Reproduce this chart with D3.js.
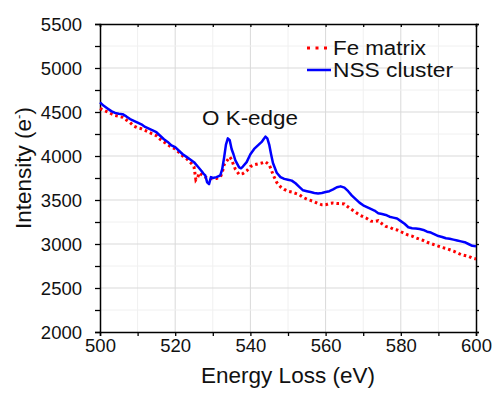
<!DOCTYPE html>
<html><head><meta charset="utf-8">
<script src="https://cdn.jsdelivr.net/npm/d3@7"></script>
<style>body{margin:0;background:#fff;} text{font-family:"Liberation Sans",Arial,sans-serif;fill:#111;}</style>
</head><body><svg id="c" width="493" height="395"></svg>
<script>
const nssEnergy = [500,501,502,503,504,505,506,507,508,509,510,511,512,513,514,515,516,517,518,519,520,521,522,523,524,525,526,527,527.5,528,528.5,529,529.5,530,531,532,532.5,533,533.5,534,534.5,535,535.5,536,537,537.5,538,539,540,541,542,543,543.5,544,544.5,545,545.5,546,547,548,549,550,551,552,553,554,555,556,557,558,559,560,561,562,563,564,565,566,567,568,569,570,571,572,573,574,575,576,577,578,579,580,581,582,583,584,585,586,587,588,589,590,591,592,593,594,595,596,597,598,599,600];
const nssIntensity = [4610,4570,4540,4510,4490,4480,4475,4450,4420,4400,4380,4360,4330,4310,4290,4270,4230,4190,4160,4120,4100,4060,4020,3990,3960,3930,3880,3830,3800,3780,3700,3680,3760,3750,3760,3780,3850,3980,4130,4200,4180,4080,4020,3950,3870,3860,3880,3930,4020,4080,4120,4160,4190,4220,4200,4130,4020,3920,3810,3760,3740,3730,3720,3690,3650,3610,3600,3590,3580,3575,3580,3590,3600,3620,3645,3655,3640,3600,3550,3510,3470,3440,3420,3400,3380,3350,3340,3330,3310,3300,3290,3260,3230,3190,3180,3175,3170,3160,3140,3130,3110,3090,3080,3065,3060,3050,3040,3030,3020,3000,2980,2975];
const feEnergy = [500,501,502,503,504,505,506,507,508,509,510,511,512,513,514,515,516,517,518,519,520,521,522,523,524,525,525.5,526,526.5,527,528,529,530,531,532,532.5,533,534,534.5,535,535.5,536,537,538,539,540,541,542,543,544,545,545.5,546,547,548,549,550,551,552,553,554,555,556,557,558,559,560,561,562,563,564,565,566,567,568,569,570,571,572,573,574,575,576,577,578,579,580,581,582,583,584,585,586,587,588,589,590,591,592,593,594,595,596,597,598,599,600];
const feIntensity = [4540,4520,4500,4480,4460,4450,4440,4410,4380,4340,4320,4310,4290,4270,4250,4230,4190,4160,4130,4100,4080,4040,4000,3970,3930,3880,3730,3760,3810,3790,3760,3750,3740,3745,3760,3810,3900,3960,3990,3960,3900,3850,3790,3800,3830,3880,3900,3910,3920,3935,3900,3850,3790,3700,3650,3620,3600,3590,3575,3560,3530,3510,3495,3480,3460,3445,3445,3460,3465,3460,3460,3455,3420,3390,3360,3330,3310,3290,3260,3255,3265,3230,3200,3190,3170,3160,3140,3120,3100,3090,3070,3055,3040,3020,3005,2990,2975,2960,2950,2935,2920,2900,2880,2870,2860,2840,2830];
const xTicks = [500,520,540,560,580,600];
const yTicks = [2000,2500,3000,3500,4000,4500,5000,5500];
const seriesNames = ["Fe matrix","NSS cluster"];

const svg = d3.select("#c");
const L=100,R=476,T=24,B=332;
const x = d3.scaleLinear().domain([500,600]).range([L,R]);
const y = d3.scaleLinear().domain([2000,5500]).range([B,T]);

// gridlines
const g = svg.append("g");
d3.range(510,600,10).forEach(v=>{
  g.append("line").attr("x1",x(v)).attr("x2",x(v)).attr("y1",T).attr("y2",B)
   .attr("stroke", v%20===0?"#d9d9d9":"#f0f0f0").attr("stroke-width",1);
});
d3.range(2250,5500,250).forEach(v=>{
  g.append("line").attr("x1",L).attr("x2",R).attr("y1",y(v)).attr("y2",y(v))
   .attr("stroke", v%500===0?"#d9d9d9":"#f0f0f0").attr("stroke-width",1);
});

// axes
const ax = d3.axisBottom(x).tickValues(d3.range(500,601,10)).tickSize(4).tickFormat(d=>xTicks.includes(d)?d:"");
const xa = svg.append("g").attr("transform",`translate(0,${B})`).call(ax);
const ay = d3.axisLeft(y).tickValues(d3.range(2000,5501,250)).tickSize(5).tickFormat(d=>yTicks.includes(d)?d:"");
const ya = svg.append("g").attr("transform",`translate(${L},0)`).call(ay);
const at = svg.append("g").attr("transform",`translate(0,${T})`).call(d3.axisTop(x).tickValues(d3.range(500,601,10)).tickSize(-3).tickFormat(""));
const ar = svg.append("g").attr("transform",`translate(${R},0)`).call(d3.axisRight(y).tickValues(d3.range(2000,5501,250)).tickSize(3).tickFormat(""));
[xa,ya,at,ar].forEach(a=>{
  a.select(".domain").attr("stroke","#000").attr("stroke-width",1.5);
  a.selectAll(".tick line").attr("stroke","#000").attr("stroke-width",1.3);
  a.selectAll("text").style("font-family","Liberation Sans, Arial, sans-serif").style("font-size","18.5px").attr("fill","#111");
});
xa.selectAll("text").attr("y",7).attr("dy","0.71em");
ya.selectAll("text").attr("x",-18).attr("dy","0.35em");

// series
const line = d3.line().x(d=>x(d[0])).y(d=>y(d[1]));
const fe = feEnergy.map((e,i)=>[e,feIntensity[i]]);
const nss = nssEnergy.map((e,i)=>[e,nssIntensity[i]]);
svg.append("path").datum(fe).attr("d",line).attr("fill","none").attr("stroke","#ff0000")
  .attr("stroke-width",3).attr("stroke-dasharray","2.6,3");
svg.append("path").datum(nss).attr("d",line).attr("fill","none").attr("stroke","#0000ff")
  .attr("stroke-width",2.5).attr("stroke-linejoin","round");

// legend
const lg = svg.append("g");
lg.selectAll("rect.d").data([0,1,2]).enter().append("rect")
  .attr("x",d=>307+d*8.5).attr("y",46.5).attr("width",3).attr("height",3).attr("fill","#ff0000");
lg.append("line").attr("x1",307).attr("x2",331).attr("y1",70).attr("y2",70).attr("stroke","#0000ff").attr("stroke-width",2.5);
lg.append("text").attr("x",333).attr("y",55).style("font-size","20px").attr("textLength",93).attr("lengthAdjust","spacingAndGlyphs").text(seriesNames[0]);
lg.append("text").attr("x",333).attr("y",77).style("font-size","20px").attr("textLength",120).attr("lengthAdjust","spacingAndGlyphs").text(seriesNames[1]);

// annotation
svg.append("text").attr("x",202).attr("y",125).style("font-size","20px").attr("textLength",96).attr("lengthAdjust","spacingAndGlyphs").text("O K-edge");

// axis titles
svg.append("text").attr("x",(L+R)/2).attr("y",383).attr("text-anchor","middle").style("font-size","22.5px").text("Energy Loss (eV)");
const yt = svg.append("text").attr("transform","translate(31,168) rotate(-90)").attr("text-anchor","middle").style("font-size","22.5px");
yt.append("tspan").text("Intensity (e");
yt.append("tspan").attr("dy","-8").style("font-size","13px").text("-");
yt.append("tspan").attr("dy","8").text(")");
</script></body></html>
